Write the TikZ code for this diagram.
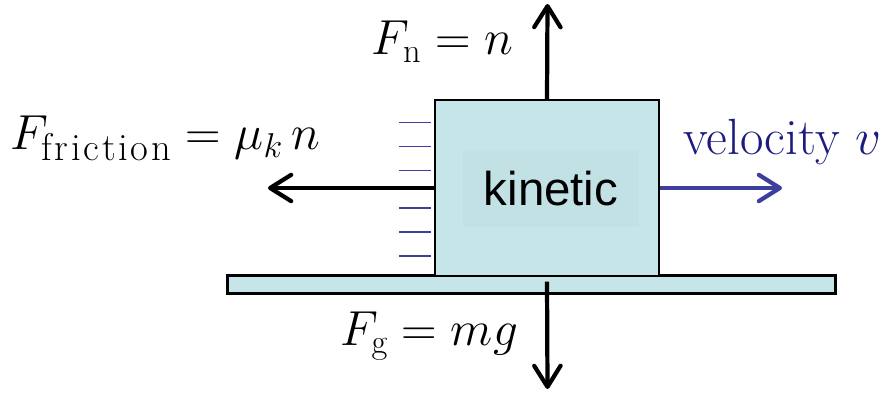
\RequirePackage{fix-cm}
\documentclass[tikz,border=0pt]{standalone}
\usepackage{amsmath}
\usepackage{fontspec}
\newfontfamily\kinfont{Liberation Sans}
\newfontfamily\subfont[LetterSpace=7]{Latin Modern Roman}
\usetikzlibrary{arrows.meta}

\definecolor{blockcol}{RGB}{197,229,232}
\definecolor{innercol}{RGB}{193,225,229}
\definecolor{arrowblue}{RGB}{62,62,158}
\definecolor{textblue}{RGB}{28,28,128}

\tikzset{
force/.style={line width=2.4pt,-{Straight Barb[length=12pt,width=15pt,line cap=round,line join=round]}},
label/.style={anchor=base west,inner sep=0pt,font=\fontsize{28}{32}\selectfont}
}

\begin{document}
\begin{tikzpicture}

\useasboundingbox (0,0) rectangle (17.76,7.86);

% Boden
\node[draw,fill=blockcol,line width=1.2pt,minimum width=12.16cm,minimum height=0.36cm,inner sep=0pt] (floor) at (10.63,2.17)
{};

% Block
\node[draw,fill=blockcol,line width=1.2pt,minimum width=4.48cm,minimum height=3.52cm,inner sep=0pt] (block) at (10.94,4.10)
{};

\node[fill=innercol,minimum width=3.53cm,minimum height=1.55cm,inner sep=0pt,font=\kinfont\fontsize{27}{30}\selectfont] (kin) at (11.02,4.09)
{kinetic};

% Reibung
\foreach \y in {5.41,4.93,4.45,3.70,3.22,2.74}
\draw[arrowblue,line width=1.1pt] (7.98,\y) -- (8.62,\y);

% Kraefte
\coordinate (top) at (10.95,7.78);
\coordinate (bottom) at (10.95,0.08);
\coordinate (left) at (5.36,4.10);
\coordinate (right) at (15.64,4.10);

\draw[force]
(block.north)
--
(top);

\draw[force]
([yshift=-0.09cm]block.south)
--
(bottom);

\draw[force]
(block.west)
--
(left);

\draw[force,arrowblue]
(block.east)
--
(right);

% Beschriftung
\node[label] (fn) at (7.43,6.76)
{$F_{\mathrm{n}} = n$};

\node[label] (ffric) at (0.20,4.86)
{$F_{\text{\subfont\fontsize{22}{22}\selectfont friction}} = \mu_k\, n$};

\node[label] (fg) at (6.80,0.94)
{$F_{\mathrm{g}} = mg$};

\node[label,textblue,font=\fontsize{29}{32}\selectfont] (vel) at (13.66,4.76)
{velocity $v$};

\end{tikzpicture}
\end{document}
